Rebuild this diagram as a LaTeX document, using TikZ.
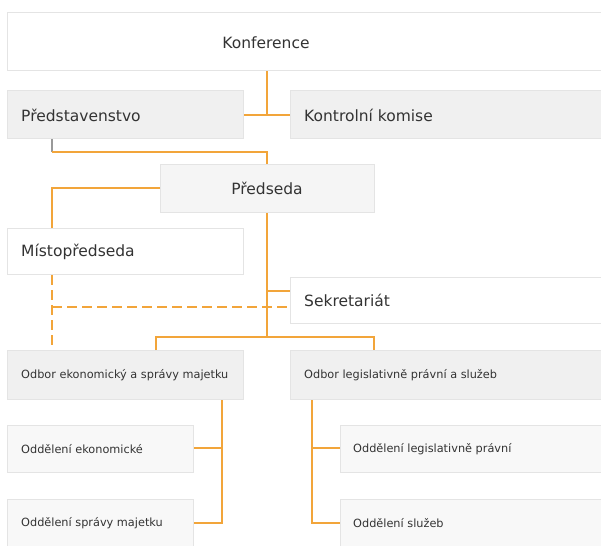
\documentclass[tikz,border=0pt]{standalone}
\usepackage{fontspec}
\setmainfont{DejaVu Sans}
\definecolor{bordc}{HTML}{E4E4E4}
\definecolor{fillA}{HTML}{F0F0F0}
\definecolor{fillB}{HTML}{F5F5F5}
\definecolor{fillC}{HTML}{F8F8F8}
\definecolor{linec}{HTML}{F2A53A}
\definecolor{txtc}{HTML}{333333}
\begin{document}
\begin{tikzpicture}[x=1pt,y=-1pt,
  box/.style={draw=bordc, line width=1.2pt, anchor=north west, inner sep=0pt},
  big/.style={font=\fontsize{15.5}{18}\selectfont, text=txtc, inner sep=0pt},
  small/.style={font=\fontsize{11.3}{14}\selectfont, text=txtc, inner sep=0pt},
  conn/.style={draw=linec, line width=1.5pt},
  dconn/.style={conn, dash pattern=on 10pt off 5pt}]
\useasboundingbox (0,0) rectangle (601,545);
\fill[white] (0,0) rectangle (601,545);
\begin{scope}
\clip (0,0) rectangle (601,545);
% boxes
\node[box, fill=white, minimum width=700pt, minimum height=58pt] (konf) at (7,12) {};
\node[box, fill=fillA, minimum width=236pt, minimum height=48pt] (pred) at (7,90) {};
\node[box, fill=fillA, minimum width=400pt, minimum height=48pt] (kk) at (290,90) {};
\node[box, fill=fillB, minimum width=214pt, minimum height=48pt] (preds) at (160,164) {};
\node[box, fill=white, minimum width=236pt, minimum height=46pt] (misto) at (7,228) {};
\node[box, fill=white, minimum width=400pt, minimum height=46pt] (sekr) at (290,277) {};
\node[box, fill=fillA, minimum width=236pt, minimum height=49pt] (odb1) at (7,350) {};
\node[box, fill=fillA, minimum width=400pt, minimum height=49pt] (odb2) at (290,350) {};
\node[box, fill=fillC, minimum width=186pt, minimum height=47pt] (od1) at (7,425) {};
\node[box, fill=fillC, minimum width=186pt, minimum height=48pt] (od2) at (7,499) {};
\node[box, fill=fillC, minimum width=400pt, minimum height=47pt] (od3) at (340,425) {};
\node[box, fill=fillC, minimum width=400pt, minimum height=48pt] (od4) at (340,499) {};
\end{scope}
% labels
\node[big] (tkonf) at (266,43) {Konference};
\node[big, anchor=west] (tpred) at (21,115) {Představenstvo};
\node[big, anchor=west] (tkk) at (304,115) {Kontrolní komise};
\node[big] (tpreds) at (267,188) {Předseda};
\node[big, anchor=west] (tmisto) at (21,252) {Místopředseda};
\node[big, anchor=west] (tsekr) at (304,300) {Sekretariát};
\node[small, anchor=west] (todb1) at (21,375) {Odbor ekonomický a správy majetku};
\node[small, anchor=west] (todb2) at (304,375) {Odbor legislativně právní a služeb};
\node[small, anchor=west] (tod1) at (21,449) {Oddělení ekonomické};
\node[small, anchor=west] (tod2) at (21,523) {Oddělení správy majetku};
\node[small, anchor=west] (tod3) at (353,449) {Oddělení legislativně právní};
\node[small, anchor=west] (tod4) at (353,523) {Oddělení služeb};
% junction coordinates
\coordinate (j1) at (267,115);
\coordinate (j2) at (52,152);
\coordinate (j3) at (267,152);
\coordinate (j4) at (52,188);
\coordinate (j5) at (267,337);
\coordinate (j6) at (267,291);
\coordinate (j7) at (52,307);
\coordinate (j8) at (156,337);
\coordinate (j9) at (374,337);
\coordinate (j10) at (222,523);
\coordinate (j11) at (222,448);
\coordinate (j12) at (312,523);
\coordinate (j13) at (312,448);
% connectors
\draw[conn] (konf.south -| j1) -- (j1);
\draw[conn] (pred.east |- j1) -- (kk.west |- j1);
\draw[draw=gray!80, line width=1.5pt] (pred.south -| j2) -- (j2);
\draw[conn] (j2) -- (j3) -- (preds.north -| j3);
\draw[conn] (preds.west |- j4) -- (j4) -- (misto.north -| j4);
\draw[conn] (preds.south -| j5) -- (j5);
\draw[conn] (j6) -- (sekr.west |- j6);
\draw[dconn] (misto.south -| j7) -- (odb1.north -| j7);
\draw[dconn] (j7) -- (sekr.west |- j7);
\draw[conn] (odb1.north -| j8) -- (j8) -- (j9) -- (odb2.north -| j9);
\draw[conn] (odb1.south -| j10) -- (j10) -- (od2.east |- j10);
\draw[conn] (od1.east |- j11) -- (j11);
\draw[conn] (odb2.south -| j12) -- (j12) -- (od4.west |- j12);
\draw[conn] (j13) -- (od3.west |- j13);
\end{tikzpicture}
\end{document}
